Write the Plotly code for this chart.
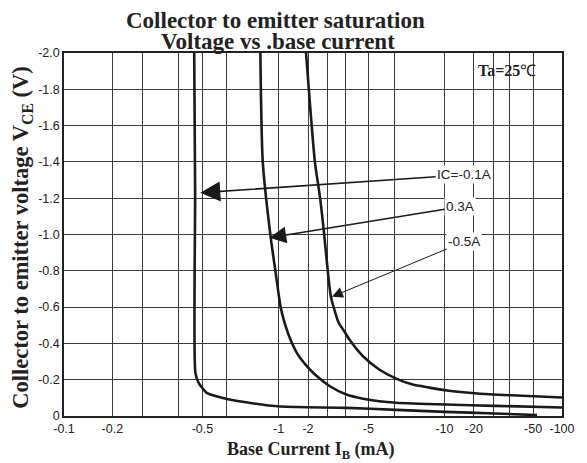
import numpy as np
import plotly.graph_objects as go

# ---- Data (IB in mA, VCE in V) ----
ib_01 = [-0.463, -0.467, -0.468, -0.482, -0.515, -0.574, -0.737, -1.047, -4.04, -6.12, -10.2, -30.5, -55.0]
vce_01 = [-2.0, -1.229, -0.239, -0.184, -0.129, -0.102, -0.074, -0.052, -0.045, -0.034, -0.023, -0.014, -0.005]

ib_03 = [-0.835, -0.855, -0.924, -0.971, -1.047, -1.149, -1.32, -1.551, -1.954, -2.40, -3.10, -4.04,
         -4.75, -5.40, -6.12, -10.23, -30.5, -100.0]
vce_03 = [-2.0, -1.40, -0.987, -0.79, -0.602, -0.514, -0.421, -0.344, -0.274, -0.219, -0.164, -0.118,
          -0.095, -0.081, -0.073, -0.063, -0.056, -0.047]

ib_05 = [-1.909, -2.30, -2.55, -2.77, -3.0, -3.15, -3.58, -3.86, -4.16, -4.75, -5.40, -6.12, -7.24,
         -8.52, -10.23, -21.7, -40.75, -100.0]
vce_05 = [-2.0, -1.40, -1.207, -1.009, -0.79, -0.657, -0.514, -0.476, -0.421, -0.329, -0.256, -0.206,
          -0.173, -0.157, -0.142, -0.124, -0.114, -0.102]

series_labels = ["IC=-0.1A", "0.3A", "-0.5A"]
# arrow tips (IB mA, VCE V) for the labels
arrow_ib = [-0.49, -0.913, -3.20]
arrow_vce = [-1.23, -0.982, -0.657]

# ---- The reference's (non-uniform, log-like) current axis ----
grid_ib = [0.1, 0.2, 0.3, 0.4, 0.5, 0.6, 1, 2, 3, 4, 5, 6, 10, 20, 30, 40, 50, 100]
grid_pos = [0.000, 0.097, 0.157, 0.230, 0.278, 0.327, 0.431, 0.490, 0.530, 0.565, 0.611,
            0.663, 0.764, 0.823, 0.863, 0.895, 0.942, 1.000]
major_labels = {0.1: "-0.1", 0.2: "-0.2", 0.5: "-0.5", 1: "-1", 2: "-2", 5: "-5",
                10: "-10", 20: "-20", 50: "-50", 100: "-100"}
x_ticktext = [major_labels.get(v, "") for v in grid_ib]

y_tickvals = [0, -0.2, -0.4, -0.6, -0.8, -1.0, -1.2, -1.4, -1.6, -1.8, -2.0]
y_ticktext = ["0", "-0.2", "-0.4", "-0.6", "-0.8", "-1.0", "-1.2", "-1.4", "-1.6", "-1.8", "-2.0"]


def xpos(ib):
    return np.interp(np.log10(np.abs(np.asarray(ib, dtype=float))), np.log10(grid_ib), grid_pos)


SERIF = "Liberation Serif"
SANS = "Liberation Sans"

fig = go.Figure()
for ib, vce in [(ib_01, vce_01), (ib_03, vce_03), (ib_05, vce_05)]:
    fig.add_trace(go.Scatter(x=xpos(ib), y=vce, mode="lines",
                             line=dict(color="#1a1a1a", width=2.6, shape="spline", smoothing=0.6),
                             showlegend=False, hoverinfo="skip"))

axis_common = dict(showgrid=True, gridcolor="#3a3a3a", gridwidth=1, zeroline=False,
                   showline=True, linecolor="#222", linewidth=1.5, mirror=True, ticks="",
                   tickfont=dict(family=SANS, size=12.5, color="#222"))
fig.update_xaxes(range=[0, 1], tickmode="array", tickvals=grid_pos, ticktext=x_ticktext, **axis_common)
fig.update_yaxes(range=[0, -2.0], tickmode="array", tickvals=y_tickvals, ticktext=y_ticktext, **axis_common)

shapes = [
    dict(type="rect", xref="paper", yref="paper", x0=0.806, x1=0.960, y0=0.909, y1=0.986,
         fillcolor="white", line=dict(width=0), layer="between"),
    dict(type="rect", xref="paper", yref="paper", x0=0.750, x1=0.899, y0=0.452, y1=0.507,
         fillcolor="white", line=dict(width=0), layer="between"),
]

label_pos = [(0.8036, -1.329), (0.7956, -1.153), (0.8036, -0.960)]
head_sizes = [2.5, 2.1, 2.2]
line_widths = [1.6, 1.6, 1.0]
annotations = []
for lab, tib, tv, (ax, ay), hs, lw in zip(series_labels, arrow_ib, arrow_vce, label_pos, head_sizes, line_widths):
    annotations.append(dict(x=float(xpos(tib)), y=tv, xref="x", yref="y", ax=ax, ay=ay,
                            axref="x", ayref="y", text=lab, showarrow=True, arrowhead=2,
                            arrowsize=hs, arrowwidth=lw, arrowcolor="#1a1a1a", bgcolor="white",
                            borderpad=1, font=dict(family=SANS, size=13.5, color="#222")))

annotations += [
    dict(text="<b>Collector to emitter saturation</b>", x=0.4246, y=1.090, xref="paper", yref="paper",
         xanchor="center", yanchor="middle", showarrow=False, font=dict(family=SERIF, size=23, color="#222")),
    dict(text="<b>Voltage vs .base current</b>", x=0.4306, y=1.033, xref="paper", yref="paper",
         xanchor="center", yanchor="middle", showarrow=False, font=dict(family=SERIF, size=23, color="#222")),
    dict(text="<b>Collector to emitter voltage V<sub>CE</sub> (V)</b>", x=-0.0833, y=0.490,
         xref="paper", yref="paper", textangle=-90, xanchor="center", yanchor="middle", showarrow=False,
         font=dict(family=SERIF, size=22.5, color="#222")),
    dict(text="<b>Base Current I<sub>B</sub> (mA)</b>", x=0.496, y=-0.0937, xref="paper", yref="paper",
         xanchor="center", yanchor="middle", showarrow=False, font=dict(family=SERIF, size=18, color="#222")),
    dict(text="<b>Ta=25</b>℃", x=0.889, y=0.953, xref="paper", yref="paper",
         xanchor="center", yanchor="middle", showarrow=False, font=dict(family=SERIF, size=16, color="#222")),
]

fig.update_layout(width=587, height=463, margin=dict(l=64, r=19, t=53, b=47),
                  plot_bgcolor="white", paper_bgcolor="white",
                  shapes=shapes, annotations=annotations, showlegend=False)

fig.write_html("out.html", config={"displayModeBar": False},
               post_script="document.body.style.margin='0';document.body.style.overflow='hidden';")
